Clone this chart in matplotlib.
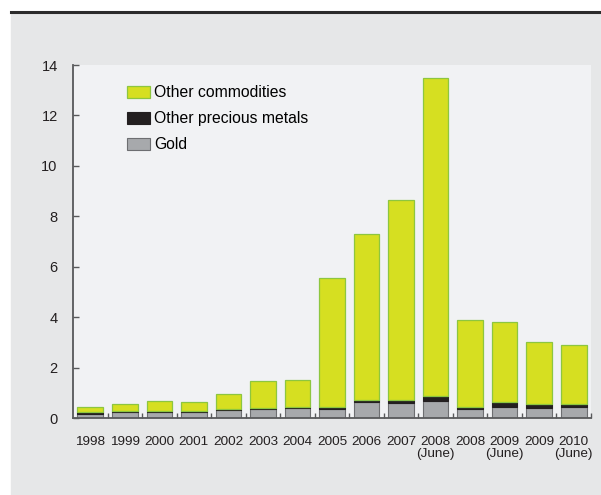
import numpy as np
import matplotlib
matplotlib.use("Agg")
import matplotlib.pyplot as plt
from matplotlib import font_manager
from matplotlib.patches import Rectangle
from matplotlib.lines import Line2D

years = ["1998", "1999", "2000", "2001", "2002", "2003", "2004", "2005",
         "2006", "2007", "2008\n(June)", "2008", "2009\n(June)", "2009", "2010\n(June)"]
gold = [0.17, 0.25, 0.24, 0.24, 0.30, 0.35, 0.39, 0.35,
        0.64, 0.60, 0.66, 0.35, 0.42, 0.41, 0.42]
precious = [0.06, 0.04, 0.05, 0.04, 0.07, 0.05, 0.05, 0.07,
            0.09, 0.10, 0.21, 0.07, 0.20, 0.13, 0.14]
other = [0.19, 0.28, 0.40, 0.35, 0.59, 1.06, 1.06, 5.13,
         6.57, 7.93, 12.63, 3.48, 3.20, 2.46, 2.35]

# narrow font if there is one, else plain one a bit smaller
try:
    font_manager.findfont("Liberation Sans Narrow", fallback_to_default=False)
    fam, k = "Liberation Sans Narrow", 1.18
except ValueError:
    fam, k = "Liberation Sans", 1.0
plt.rcParams["font.family"] = [fam, "DejaVu Sans"]

fig = plt.figure(figsize=(6.01, 4.95), dpi=100)
fig.patch.set_facecolor("white")
fig.patches.append(Rectangle((11 / 601, 0), 590 / 601, 482 / 495,
                             transform=fig.transFigure, color="#e6e7e8", zorder=-10))
fig.lines.append(Line2D([11 / 601, 1], [1 - 12 / 495] * 2, transform=fig.transFigure,
                        color="#2b2b2b", lw=2.2, zorder=-5))

ax = fig.add_axes([73 / 601, 77 / 495, 518 / 601, 353 / 495])
ax.set_facecolor("#f1f2f4")

x = np.arange(len(years))
w = 0.74
bot2 = np.array(gold) + np.array(precious)
ax.bar(x, gold, w, color="#a7a9ac", edgecolor="#6d6e71", lw=0.8, label="Gold")
ax.bar(x, precious, w, bottom=gold, color="#231f20", edgecolor="#231f20", lw=0.8,
       label="Other precious metals")
ax.bar(x, other, w, bottom=bot2, color="#d6df21", edgecolor="#8dc63f", lw=0.9,
       label="Other commodities")

ax.set_xlim(-0.5, 14.5)
ax.set_ylim(0, 14)
ax.set_yticks(range(0, 15, 2))
ax.set_xticks(x)
ax.set_xticklabels(years, fontsize=9.7 * k, color="#231f20", linespacing=1.0)
ax.set_xticks(np.arange(0.5, 15, 1), minor=True)

for s in ["top", "right"]:
    ax.spines[s].set_visible(False)
for s in ["left", "bottom"]:
    ax.spines[s].set_color("#58595b")
    ax.spines[s].set_linewidth(1.3)

ax.tick_params(axis="y", direction="in", length=4.5, width=1, color="#58595b",
               labelsize=10.5 * k, labelcolor="#231f20", pad=11)
ax.tick_params(axis="x", which="major", length=0, pad=13)
ax.tick_params(axis="x", which="minor", direction="in", length=3.5, width=1, color="#58595b")

h, l = ax.get_legend_handles_labels()
ax.legend(h[::-1], l[::-1], loc="upper left", bbox_to_anchor=(0.104, 0.942),
          frameon=False, fontsize=11.3 * k, handlelength=1.5, handleheight=0.75,
          handletextpad=0.25, labelspacing=0.7, borderpad=0, borderaxespad=0)

fig.savefig("out.png", dpi=100)
